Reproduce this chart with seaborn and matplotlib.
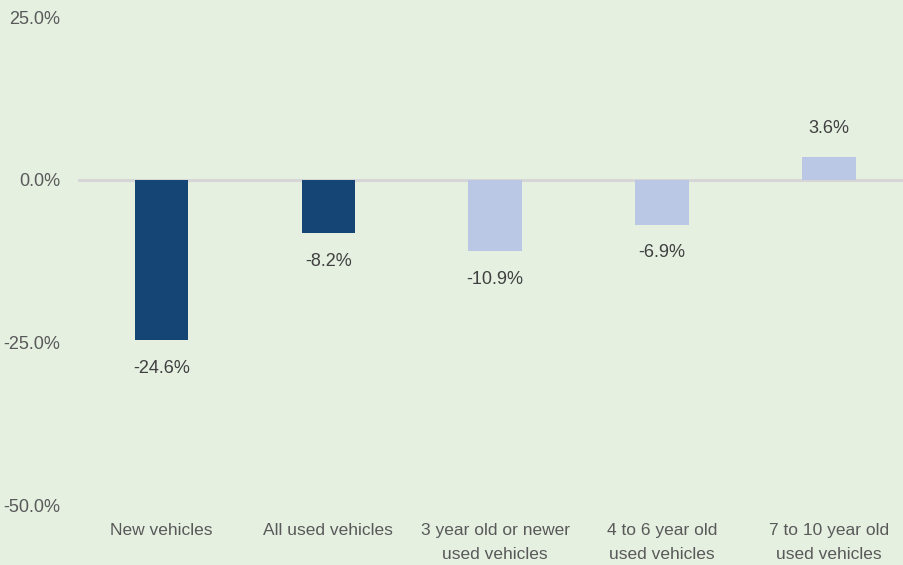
import matplotlib
matplotlib.use("Agg")
import matplotlib.pyplot as plt
import seaborn as sns
import pandas as pd

categories = ["New vehicles", "All used vehicles", "3 year old or newer\nused vehicles",
              "4 to 6 year old\nused vehicles", "7 to 10 year old\nused vehicles"]
values = [-24.6, -8.2, -10.9, -6.9, 3.6]
groups = ["dark", "dark", "light", "light", "light"]
yticks = [25, 0, -25, -50]

sns.set_theme(style="white")
bg = "#e5f0e1"
plt.rcParams['font.family'] = ['Liberation Sans', 'DejaVu Sans']

fig = plt.figure(figsize=(9.04, 5.65), dpi=100, facecolor=bg)
ax = fig.add_axes([78/904, (565-506)/565, 1 - 78/904, (506-17)/565])
ax.set_facecolor(bg)

df = pd.DataFrame({"cat": categories, "val": values, "grp": groups})
palette = {"dark": "#144574", "light": "#bac8e6"}
sns.barplot(data=df, x="cat", y="val", hue="grp", palette=palette, dodge=False,
            width=0.32, legend=False, ax=ax, saturation=1, linewidth=0)

ax.axhline(0, color="#d6d6d6", lw=2.2, zorder=0)
ax.set_ylim(-50, 25)
ax.set_xlim(-0.5, 4.45)
ax.set_yticks(yticks)
ax.set_yticklabels([f"{v:.1f}%" for v in yticks], color="#595959", fontsize=13)
ax.tick_params(axis="y", length=0, pad=13)
ax.tick_params(axis="x", length=0, pad=12)
ax.set_xticks(range(len(categories)))
ax.set_xticklabels(categories, fontsize=12.5, color="#595959", linespacing=1.75)
for s in ax.spines.values():
    s.set_visible(False)
ax.set_xlabel("")
ax.set_ylabel("")

for c in ax.containers:
    ax.bar_label(c, labels=[f"{v:.1f}%" for v in c.datavalues], padding=14,
                 fontsize=13, color="#404040")

fig.savefig("out.png", dpi=100, facecolor=bg)
